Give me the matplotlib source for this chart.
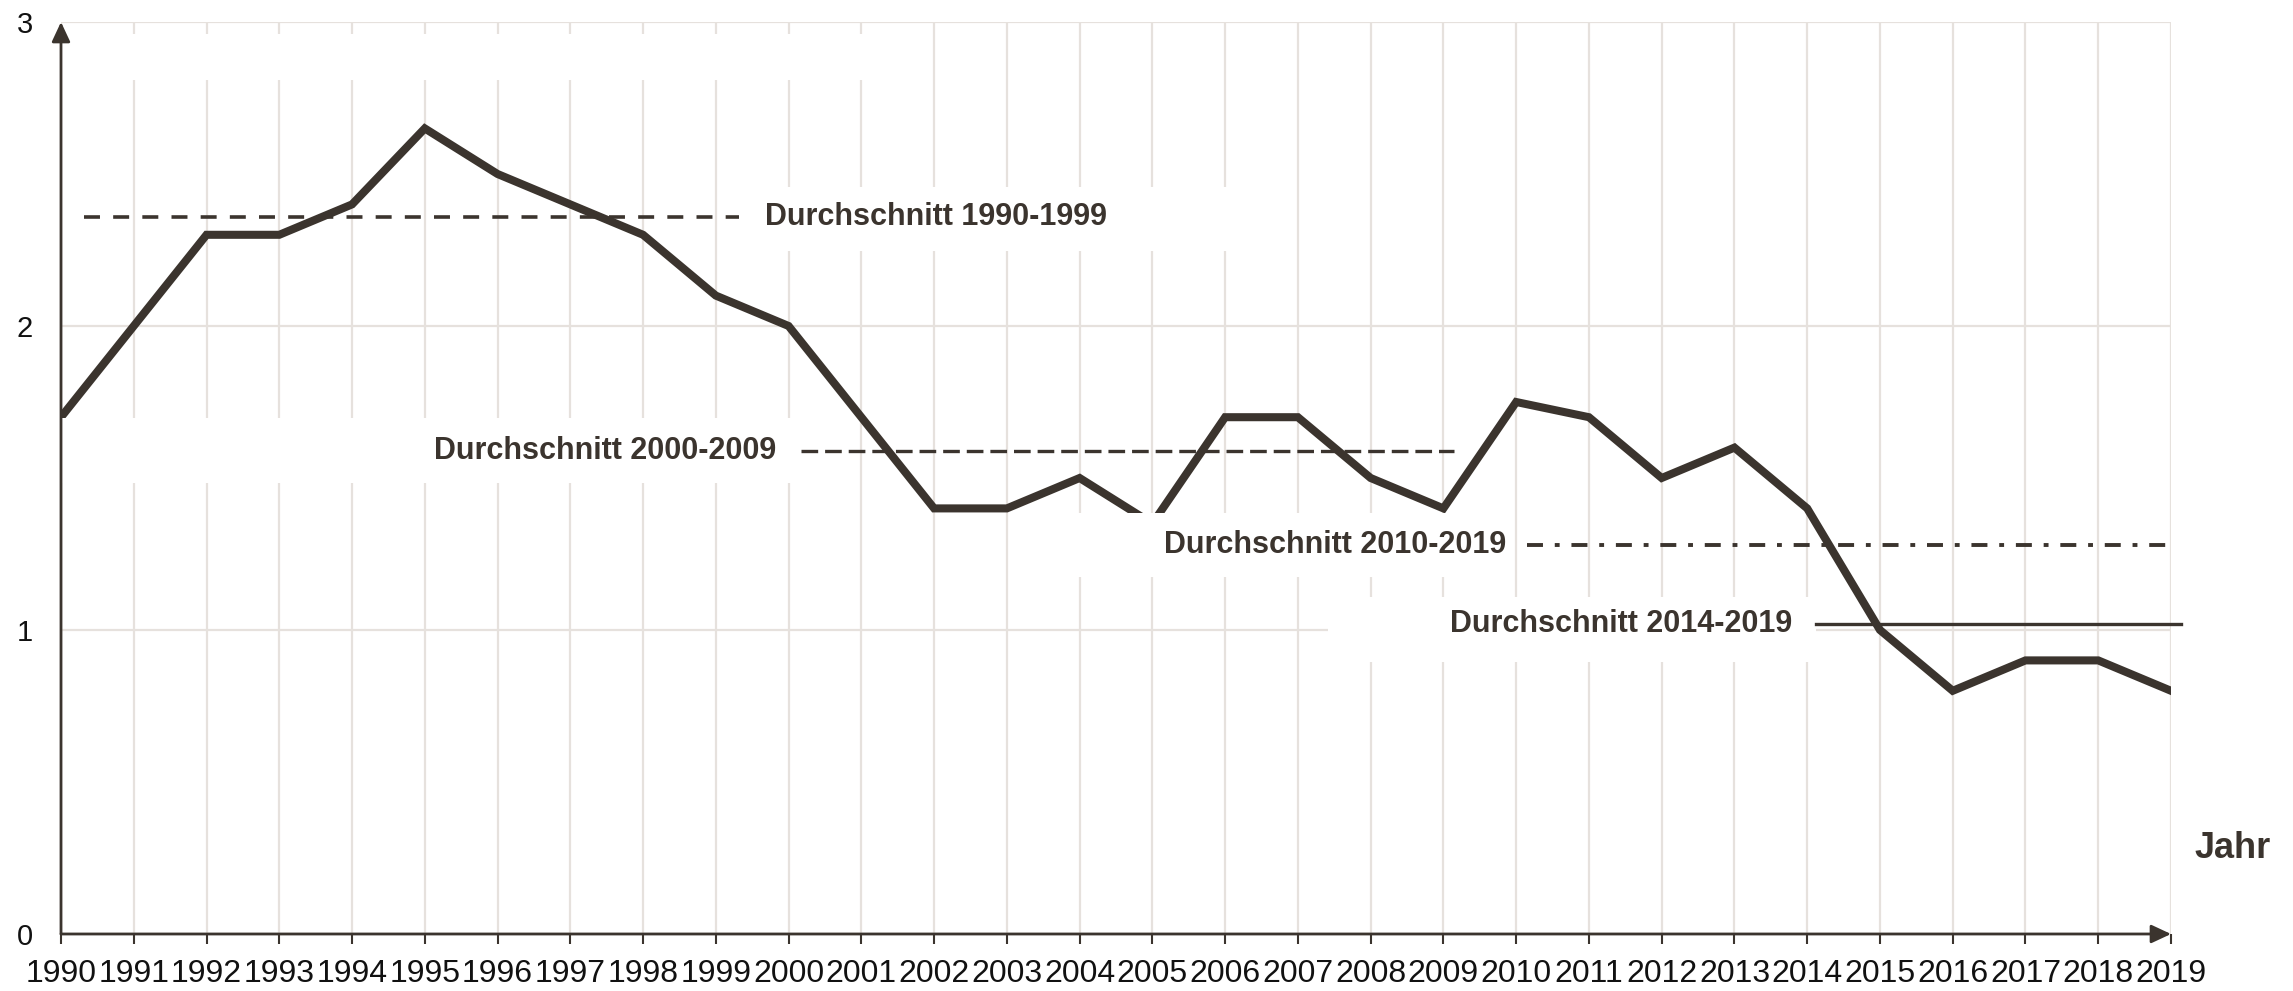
import matplotlib
matplotlib.use("Agg")
import matplotlib.pyplot as plt
from matplotlib.patches import Rectangle

# data
years = list(range(1990, 2020))
values = [1.7, 2.0, 2.3, 2.3, 2.4, 2.65, 2.5, 2.4, 2.3, 2.1,
          2.0, 1.7, 1.4, 1.4, 1.5, 1.35, 1.7, 1.7, 1.5, 1.4,
          1.75, 1.7, 1.5, 1.6, 1.4, 1.0, 0.8, 0.9, 0.9, 0.8]

avg_labels = ["Durchschnitt 1990-1999", "Durchschnitt 2000-2009",
              "Durchschnitt 2010-2019", "Durchschnitt 2014-2019"]
avg_start = [1990, 2000, 2010, 2014]
avg_end = [1999, 2009, 2019, 2019]
avg_values = [2.36, 1.59, 1.28, 1.02]

y_ticks = [0, 1, 2, 3]
x_label = "Jahr"

# style
DARK = "#3b342e"
GRID = "#e6e1dd"
plt.rcParams["font.family"] = ["Liberation Sans", "DejaVu Sans"]
plt.rcParams["lines.scale_dashes"] = False

# per average line: (start offset, end offset, linestyle, linewidth)
avg_styles = [
    (0.32, 0.32, (0, (11.5, 9.5)), 2.6),
    (0.17, 0.15, (0, (12, 5)), 2.4),
    (0.15, 0.08, (0, (11.5, 8.5, 3.5, 8.5)), 2.8),
    (0.12, 0.14, "-", 2.4),
]
label_right = [2004.38, 1999.83, 2009.86, 2013.80]

# white label boxes that cut the grid (x0, x1, y0, y1 in data units)
boxes = [
    (1990.0, 2001.5, 2.81, 2.96),
    (1990.0, 2000.57, 1.484, 1.697),
    (1999.55, 2006.5, 2.247, 2.457),
    (2003.5, 2009.9, 1.174, 1.385),
    (2007.41, 2014.12, 0.895, 1.109),
]

fig = plt.figure(figsize=(22.93, 9.91), dpi=100)
W, H = 2293, 991
ax = fig.add_axes([61 / W, (H - 934) / H, (2171 - 61) / W, (934 - 22) / H])

ax.set_xlim(1990, 2019)
ax.set_ylim(0, 3)

ax.set_xticks(years)
ax.set_xticklabels([str(y) for y in years], fontsize=23, color="#111111")
ax.set_yticks(y_ticks)
ax.set_yticklabels([str(v) for v in y_ticks], fontsize=21, color="#111111")
ax.tick_params(axis="x", direction="out", length=7, width=1.5, color=DARK, pad=11)
ax.tick_params(axis="y", length=0, pad=20)

ax.grid(True, color=GRID, lw=1.6)
ax.set_axisbelow(True)
for s in ax.spines.values():
    s.set_visible(False)

ax.plot(years, values, color=DARK, lw=5.8, solid_joinstyle="miter", zorder=2)

for x0, x1, y0, y1 in boxes:
    ax.add_patch(Rectangle((x0, y0), x1 - x0, y1 - y0, fc="white", ec="none", zorder=2.5))

for lab, s, e, v, st, xr in zip(avg_labels, avg_start, avg_end, avg_values, avg_styles, label_right):
    so, eo, ls, lw = st
    ax.plot([s + so, e + eo], [v, v], color=DARK, ls=ls, lw=lw, zorder=3, clip_on=False)
    ax.text(xr, v, lab, ha="right", va="center", fontsize=22, fontweight="bold",
            color=DARK, zorder=4)

# axes with arrow heads
arrow = dict(arrowstyle="-|>,head_length=0.6,head_width=0.28", color=DARK, lw=2,
             shrinkA=0, shrinkB=0, mutation_scale=20)
ax.annotate("", xy=(0, 1), xytext=(0, 0), xycoords="axes fraction", arrowprops=arrow, zorder=5)
ax.annotate("", xy=(1, 0), xytext=(0, 0), xycoords="axes fraction", arrowprops=arrow, zorder=5)

fig.text(2233 / W, 1 - 848 / H, x_label, ha="center", va="center", fontsize=26,
         fontweight="bold", color=DARK)

fig.savefig("out.png", dpi=100, facecolor="white")
